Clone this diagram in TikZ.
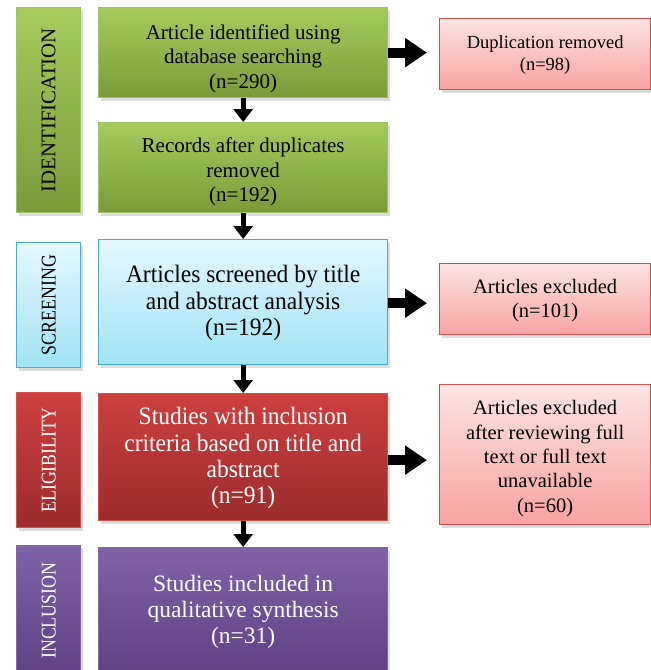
\documentclass[tikz,border=0pt]{standalone}
\usepackage{fontspec}
\setmainfont{Liberation Serif}
\newfontfamily\condA[FakeStretch=0.94]{Liberation Serif}
\newfontfamily\condB[FakeStretch=0.85]{Liberation Serif}
\usetikzlibrary{arrows.meta,shadows}
\definecolor{gtop}{HTML}{A6CA5C}
\definecolor{gbot}{HTML}{7B9A3A}
\definecolor{gline}{HTML}{A0C262}
\definecolor{ctop}{HTML}{E4F8FD}
\definecolor{cbot}{HTML}{A0E3F7}
\definecolor{cline}{HTML}{4BACC6}
\definecolor{rtop}{HTML}{CD403E}
\definecolor{rbot}{HTML}{9C2C2B}
\definecolor{rline}{HTML}{D0504E}
\definecolor{ptop}{HTML}{FDE4E4}
\definecolor{pbot}{HTML}{F8A2A2}
\definecolor{pline}{HTML}{C9524F}
\definecolor{vtop}{HTML}{8062A8}
\definecolor{vbot}{HTML}{5E4284}
\definecolor{vline}{HTML}{8366A6}
\begin{document}
\begin{tikzpicture}[x=1pt,y=-1pt,
  box/.style={draw, line width=1.3pt, inner sep=0pt, anchor=north west,
    drop shadow={shadow xshift=2pt,shadow yshift=-3pt,opacity=0.28}},
  greenbox/.style={box, draw=gline, top color=gtop, bottom color=gbot},
  cyanbox/.style={box, draw=cline, top color=ctop, bottom color=cbot},
  redbox/.style={box, draw=rline, top color=rtop, bottom color=rbot},
  pinkbox/.style={box, draw=pline, top color=ptop, bottom color=pbot},
  purplebox/.style={box, draw=vline, top color=vtop, bottom color=vbot},
  txt/.style={align=center, inner sep=0pt},
  gtxt/.style={txt, font=\fontsize{21}{24.5}\selectfont},
  btxt/.style={txt, font=\condA\fontsize{25}{26.3}\selectfont},
  vtxt/.style={txt, font=\fontsize{23.5}{26.3}\selectfont},
  ptxt/.style={txt, font=\fontsize{18.5}{22}\selectfont},
  etxt/.style={txt, font=\fontsize{20.5}{24.4}\selectfont},
  stxt/.style={txt, rotate=90, font=\condB\fontsize{21}{22}\selectfont},
  harrow/.style={line width=10pt, -{Triangle[length=22pt,width=28pt]}, shorten >=12pt},
  varrow/.style={line width=5pt, -{Triangle[length=13pt,width=19pt]}}
]
\useasboundingbox (0,0) rectangle (651,670);
\clip (0,0) rectangle (651,670);
% side labels
\node[greenbox, minimum width=64pt, minimum height=205pt] (ident) at (16,7) {};
\node[txt, rotate=90, font=\fontsize{20.8}{22}\selectfont] (identt) at (ident.center) {IDENTIFICATION};
\node[cyanbox, minimum width=64pt, minimum height=125pt] (scr) at (16,242) {};
\node[stxt] (scrt) at (scr.center) {SCREENING};
\node[redbox, minimum width=64pt, minimum height=135pt] (elig) at (16,392) {};
\node[stxt, text=white] (eligt) at (elig.center) {ELIGIBILITY};
\node[purplebox, minimum width=64pt, minimum height=130pt] (incl) at (16,545) {};
\node[stxt, text=white] (inclt) at (incl.center) {INCLUSION};
% main column
\node[greenbox, minimum width=289pt, minimum height=90pt] (b1) at (98,7) {};
\node[gtxt] (b1t) at ([yshift=-6pt]b1.center) {Article identified using\\database searching\\(n=290)};
\node[greenbox, minimum width=289pt, minimum height=90pt] (b2) at (98,122) {};
\node[gtxt] (b2t) at ([yshift=-4.5pt]b2.center) {Records after duplicates\\removed\\(n=192)};
\node[cyanbox, minimum width=289pt, minimum height=125pt] (b3) at (98,239) {};
\node[btxt] (b3t) at ([yshift=-1pt]b3.center) {Articles screened by title\\and abstract analysis\\(n=192)};
\node[redbox, minimum width=289pt, minimum height=127pt] (b4) at (98,393) {};
\node[btxt, text=white] (b4t) at ([yshift=-1pt]b4.center) {Studies with inclusion\\criteria based on title and\\abstract\\(n=91)};
\node[purplebox, minimum width=289pt, minimum height=128pt] (b5) at (98,547) {};
\node[vtxt, text=white] (b5t) at (b5.center) {Studies included in\\qualitative synthesis\\(n=31)};
% right column
\node[pinkbox, minimum width=211pt, minimum height=71pt] (x1) at (439,18) {};
\node[ptxt] (x1t) at ([yshift=-1pt]x1.center) {Duplication removed\\(n=98)};
\node[pinkbox, minimum width=211pt, minimum height=71pt] (x2) at (439,263) {};
\node[etxt] (x2t) at ([yshift=-1.5pt]x2.center) {Articles excluded\\(n=101)};
\node[pinkbox, minimum width=211pt, minimum height=140pt] (x3) at (439,384) {};
\node[etxt] (x3t) at ([yshift=-4pt]x3.center) {Articles excluded\\after reviewing full\\text or full text\\unavailable\\(n=60)};
% arrows
\coordinate (a3) at ([yshift=-1pt]b3.east);
\coordinate (a4) at ([yshift=-3pt]b4.east);
\draw[varrow] (b1.south) -- (b2.north);
\draw[varrow] (b2.south) -- (b3.north);
\draw[varrow] (b3.south) -- (b4.north);
\draw[varrow] (b4.south) -- (b5.north);
\draw[harrow] (b1.east) -- (x1.west |- b1.east);
\draw[harrow] (a3) -- (x2.west |- a3);
\draw[harrow] (a4) -- (x3.west |- a4);
\end{tikzpicture}
\end{document}
